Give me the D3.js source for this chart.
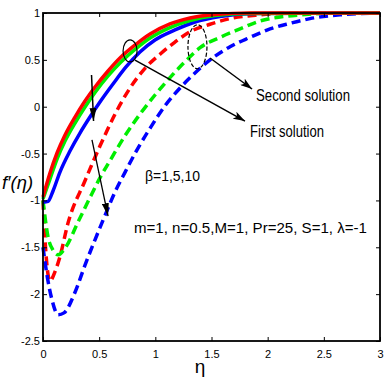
<!DOCTYPE html>
<html>
<head>
<meta charset="utf-8">
<script src="https://cdn.jsdelivr.net/npm/d3@7"></script>
<style>
  html, body { margin: 0; padding: 0; background: #fff; }
  svg { display: block; }
  text { font-family: "Liberation Sans", Arial, sans-serif; }
</style>
</head>
<body>
<svg id="chart" width="389" height="387"></svg>
<script>
// ---- Data ----
const xTicks = [0, 0.5, 1, 1.5, 2, 2.5, 3];
const xTickLabels = ["0", "0.5", "1", "1.5", "2", "2.5", "3"];
const yTicks = [1, 0.5, 0, -0.5, -1, -1.5, -2, -2.5];
const yTickLabels = ["1", "0.5", "0", "-0.5", "-1", "-1.5", "-2", "-2.5"];

// First solution (solid)
const solidRedEta   = [0, 0.062, 0.125, 0.196, 0.285, 0.374, 0.463, 0.579, 0.694, 0.819, 0.953, 1.13, 1.309, 1.531, 1.843, 3];
const solidRedF     = [-0.964, -0.708, -0.494, -0.302, -0.110, 0.061, 0.21, 0.381, 0.53, 0.658, 0.776, 0.883, 0.947, 0.984, 1.0, 1.0];
const solidGreenEta = [0, 0.062, 0.125, 0.196, 0.285, 0.374, 0.463, 0.579, 0.694, 0.819, 0.953, 1.13, 1.309, 1.531, 1.843, 3];
const solidGreenF   = [-0.985, -0.772, -0.558, -0.366, -0.174, -0.003, 0.152, 0.328, 0.477, 0.611, 0.733, 0.845, 0.92, 0.973, 0.995, 1.0];
const solidBlueEta  = [0, 0.045, 0.089, 0.151, 0.240, 0.329, 0.418, 0.507, 0.623, 0.739, 0.863, 0.997, 1.175, 1.353, 1.576, 1.887, 3];
const solidBlueF    = [-1.02, -1.01, -0.899, -0.697, -0.473, -0.281, -0.11, 0.05, 0.242, 0.424, 0.584, 0.712, 0.819, 0.904, 0.963, 0.995, 1.0];

// Second solution (dashed)
const dashRedEta   = [0, 0.018, 0.062, 0.107, 0.151, 0.223, 0.374, 0.507, 0.641, 0.775, 0.908, 1.042, 1.175, 1.309, 1.487, 1.665, 1.93, 2.29, 3];
const dashRedF     = [-1.0, -1.42, -1.86, -1.76, -1.60, -1.24, -0.79, -0.42, -0.08, 0.20, 0.41, 0.56, 0.69, 0.80, 0.88, 0.94, 0.98, 1.0, 1.0];
const dashGreenEta = [0, 0.045, 0.089, 0.134, 0.196, 0.312, 0.418, 0.507, 0.614, 0.730, 0.863, 0.997, 1.13, 1.264, 1.398, 1.576, 1.754, 1.932, 2.11, 2.29, 2.644, 3];
const dashGreenF   = [-1.0, -1.39, -1.53, -1.58, -1.51, -1.23, -0.97, -0.76, -0.54, -0.31, -0.08, 0.125, 0.31, 0.48, 0.63, 0.74, 0.83, 0.915, 0.957, 0.98, 1.0, 1.0];
const dashBlueEta  = [0, 0.036, 0.080, 0.134, 0.187, 0.285, 0.374, 0.463, 0.552, 0.641, 0.730, 0.837, 0.953, 1.086, 1.22, 1.353, 1.487, 1.665, 1.843, 2.021, 2.2, 2.377, 2.644, 3];
const dashBlueF    = [-1.5, -1.80, -2.06, -2.22, -2.20, -1.98, -1.69, -1.42, -1.16, -0.91, -0.70, -0.46, -0.23, 0.01, 0.20, 0.36, 0.50, 0.64, 0.74, 0.83, 0.89, 0.94, 0.98, 1.0];

const seriesColors = ["#ff0000", "#00ee00", "#0000ff"];

// ---- Layout ----
const svg = d3.select("#chart");
const L = 43, R = 380, T = 13, B = 341;
const x = d3.scaleLinear().domain([0, 3]).range([L, R]);
const y = d3.scaleLinear().domain([-2.5, 1]).range([B, T]);

svg.append("rect").attr("width", 389).attr("height", 387).attr("fill", "#fff");

const zip = (a, b) => a.map((v, i) => [v, b[i]]);
const line = d3.line().x(d => x(d[0])).y(d => y(d[1])).curve(d3.curveMonotoneX);

const dashed = [
  [dashRedEta, dashRedF, seriesColors[0]],
  [dashGreenEta, dashGreenF, seriesColors[1]],
  [dashBlueEta, dashBlueF, seriesColors[2]]
];
const solid = [
  [solidBlueEta, solidBlueF, seriesColors[2]],
  [solidGreenEta, solidGreenF, seriesColors[1]],
  [solidRedEta, solidRedF, seriesColors[0]]
];

const plot = svg.append("g");
dashed.forEach(([e, f, c]) => {
  plot.append("path").datum(zip(e, f)).attr("d", line)
    .attr("fill", "none").attr("stroke", c).attr("stroke-width", 3.5)
    .attr("stroke-dasharray", "9,5");
});
solid.forEach(([e, f, c]) => {
  plot.append("path").datum(zip(e, f)).attr("d", line)
    .attr("fill", "none").attr("stroke", c).attr("stroke-width", 3.5);
});

// ---- Axes ----
const axFont = "11px";
const gB = svg.append("g").attr("transform", `translate(0,${B})`)
  .call(d3.axisBottom(x).tickValues(xTicks).tickFormat((d, i) => xTickLabels[i]).tickSizeInner(-4).tickSizeOuter(0).tickPadding(9));
const gL = svg.append("g").attr("transform", `translate(${L},0)`)
  .call(d3.axisLeft(y).tickValues(yTicks).tickFormat((d, i) => yTickLabels[i]).tickSizeInner(-4).tickSizeOuter(0).tickPadding(3));
const gT = svg.append("g").attr("transform", `translate(0,${T})`)
  .call(d3.axisTop(x).tickValues(xTicks).tickFormat("").tickSizeInner(-4).tickSizeOuter(0));
const gR = svg.append("g").attr("transform", `translate(${R},0)`)
  .call(d3.axisRight(y).tickValues(yTicks).tickFormat("").tickSizeInner(-4).tickSizeOuter(0));
[gB, gL, gT, gR].forEach(g => {
  g.select(".domain").remove();
  g.selectAll(".tick line").attr("stroke", "#000").attr("stroke-width", 1);
  g.selectAll("text").attr("font-size", axFont).attr("fill", "#000")
    .attr("font-family", "'Liberation Sans', Arial, sans-serif");
});
svg.append("rect").attr("x", L).attr("y", T).attr("width", R - L).attr("height", B - T)
  .attr("fill", "none").attr("stroke", "#000").attr("stroke-width", 1.8);

// Axis labels
svg.append("text").attr("x", 200).attr("y", 373).attr("text-anchor", "middle")
  .attr("font-size", "19px").text("η");
svg.append("text").attr("x", 2).attr("y", 189).attr("font-size", "19px").attr("font-style", "italic")
  .attr("textLength", 31).attr("lengthAdjust", "spacingAndGlyphs").text("f′(η)");

// ---- Annotations ----
const defs = svg.append("defs");
defs.append("marker").attr("id", "ah").attr("viewBox", "0 0 12 8").attr("refX", 12).attr("refY", 4)
  .attr("markerWidth", 12).attr("markerHeight", 8).attr("markerUnits", "userSpaceOnUse")
  .attr("orient", "auto").append("path").attr("d", "M0,0 L12,4 L0,8 L3,4 Z").attr("fill", "#000");
defs.append("marker").attr("id", "ah2").attr("viewBox", "0 0 13 7").attr("refX", 13).attr("refY", 3.5)
  .attr("markerWidth", 13).attr("markerHeight", 7).attr("markerUnits", "userSpaceOnUse")
  .attr("orient", "auto").append("path").attr("d", "M0,0 L13,3.5 L0,7 Z").attr("fill", "#000");

const ann = svg.append("g");
ann.append("ellipse").attr("cx", x(0.775)).attr("cy", y(0.595)).attr("rx", 7).attr("ry", 11)
  .attr("fill", "none").attr("stroke", "#000").attr("stroke-width", 1.2);
ann.append("ellipse").attr("cx", x(1.375)).attr("cy", y(0.64)).attr("rx", 9.5).attr("ry", 22)
  .attr("fill", "none").attr("stroke", "#000").attr("stroke-width", 1.2).attr("stroke-dasharray", "4,2");

function arrow(x1, y1, x2, y2, m, w) {
  ann.append("line").attr("x1", x(x1)).attr("y1", y(y1)).attr("x2", x(x2)).attr("y2", y(y2))
    .attr("stroke", "#000").attr("stroke-width", w).attr("marker-end", `url(#${m})`);
}
arrow(0.819, 0.498, 1.798, -0.153, "ah", 1.5);
arrow(1.487, 0.52, 1.861, 0.189, "ah", 1.5);
arrow(0.432, 0.338, 0.45, -0.153, "ah2", 1.5);
arrow(0.436, -0.355, 0.579, -1.167, "ah2", 1.3);

function label(tx, ty, s, len, size) {
  ann.append("text").attr("x", x(tx)).attr("y", y(ty)).attr("font-size", size)
    .attr("textLength", len).attr("lengthAdjust", "spacingAndGlyphs").attr("fill", "#000").text(s);
}
label(1.896, 0.061, "Second solution", 94, "16px");
label(1.843, -0.323, "First solution", 74, "16px");
label(0.908, -0.793, "β=1,5,10", 55, "15px");
label(0.81, -1.348, "m=1, n=0.5,M=1, Pr=25, S=1, λ=-1", 233, "15px");
</script>
</body>
</html>
